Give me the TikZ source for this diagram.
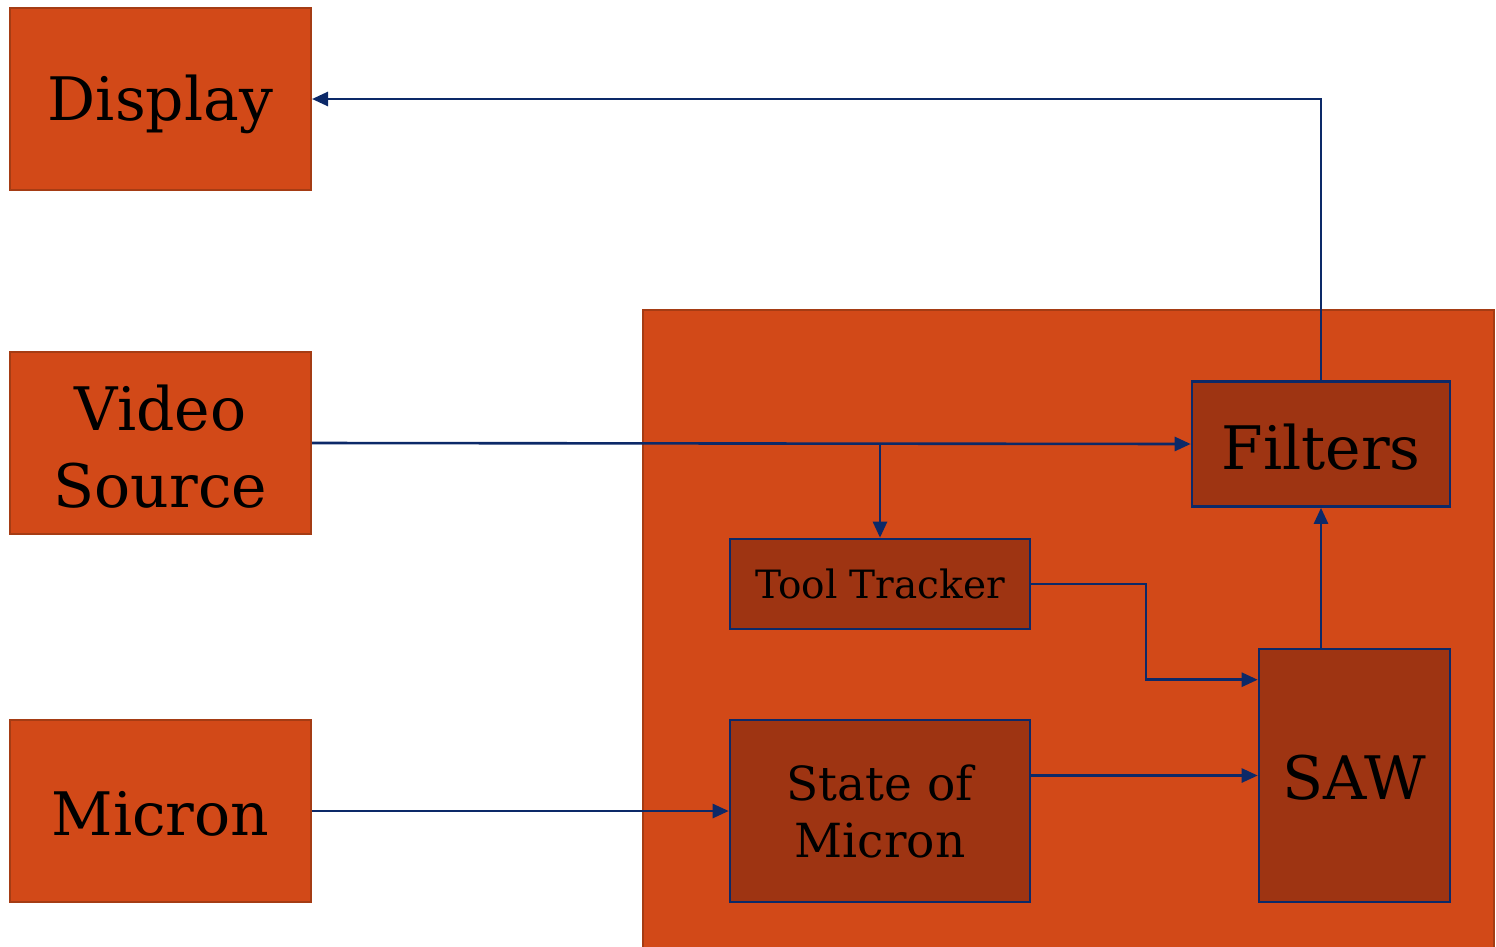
\documentclass[tikz,border=0pt]{standalone}
\usepackage{fontspec}
\setmainfont{DejaVu Serif}
\usetikzlibrary{arrows.meta,calc}
\definecolor{orangefill}{HTML}{D24918}
\definecolor{orangeedge}{HTML}{A53C14}
\definecolor{innerfill}{HTML}{9E3412}
\definecolor{navy}{HTML}{0C2968}
\tikzset{
  outerbox/.style={draw=orangeedge, fill=orangefill, line width=2pt, inner sep=0pt, align=center, text=black},
  innerbox/.style={draw=navy, fill=innerfill, line width=2.6pt, inner sep=0pt, align=center, text=black},
  arr/.style={draw=navy, line width=2.6pt, -{Triangle[length=16pt,width=14pt]}},
  big/.style={font=\fontsize{60}{77}\selectfont},
  mid/.style={font=\fontsize{47}{57}\selectfont},
  small/.style={font=\fontsize{39}{46}\selectfont},
  txt/.style={align=center, text=black, inner sep=0pt},
}
\begin{document}
\begin{tikzpicture}[x=1pt,y=-1pt]
\useasboundingbox (0,0) rectangle (1496,946);
% container
\node[outerbox, minimum width=851pt, minimum height=680pt, anchor=north west] (proc) at (642,309) {};
% left column
\node[outerbox, minimum width=301pt, minimum height=182pt,
  label={[txt, big, yshift=-5pt]center:Display}] (display) at (160.5,99) {};
\node[outerbox, minimum width=301pt, minimum height=182pt,
  label={[txt, big, yshift=-3.5pt]center:Video\\Source}] (video) at (160.5,443) {};
\node[outerbox, minimum width=301pt, minimum height=182pt,
  label={[txt, big, yshift=-3pt]center:Micron}] (micron) at (160.5,811) {};
% inner blocks
\node[innerbox, minimum width=258pt, minimum height=125pt,
  label={[txt, big, yshift=-3pt]center:Filters}] (filters) at (1321,444) {};
\node[innerbox, small, minimum width=300pt, minimum height=90pt] (tracker) at (880,584) {Tool Tracker};
\node[innerbox, mid, minimum width=300pt, minimum height=182pt] (state) at (880,811) {State of\\Micron};
\node[innerbox, minimum width=191pt, minimum height=253pt,
  label={[txt, big, yshift=-2pt]center:SAW}] (saw) at (1354.5,775.5) {};
% connectors
\coordinate (br) at (tracker.north |- filters.west);
\coordinate (sawin) at ([yshift=-32pt]saw.north west);
\coordinate (bend) at (1146,584);
\draw[arr] (filters.north) |- (display.east);
\draw[arr] (video.east) -- (filters.west);
\draw[arr] (br) -- (tracker.north);
\draw[arr] (tracker.east) -- (bend) |- (sawin);
\draw[arr] (saw.west -| state.east) -- (saw.west);
\draw[arr] (saw.north -| filters.south) -- (filters.south);
\draw[arr] (micron.east) -- (state.west);
\end{tikzpicture}
\end{document}
